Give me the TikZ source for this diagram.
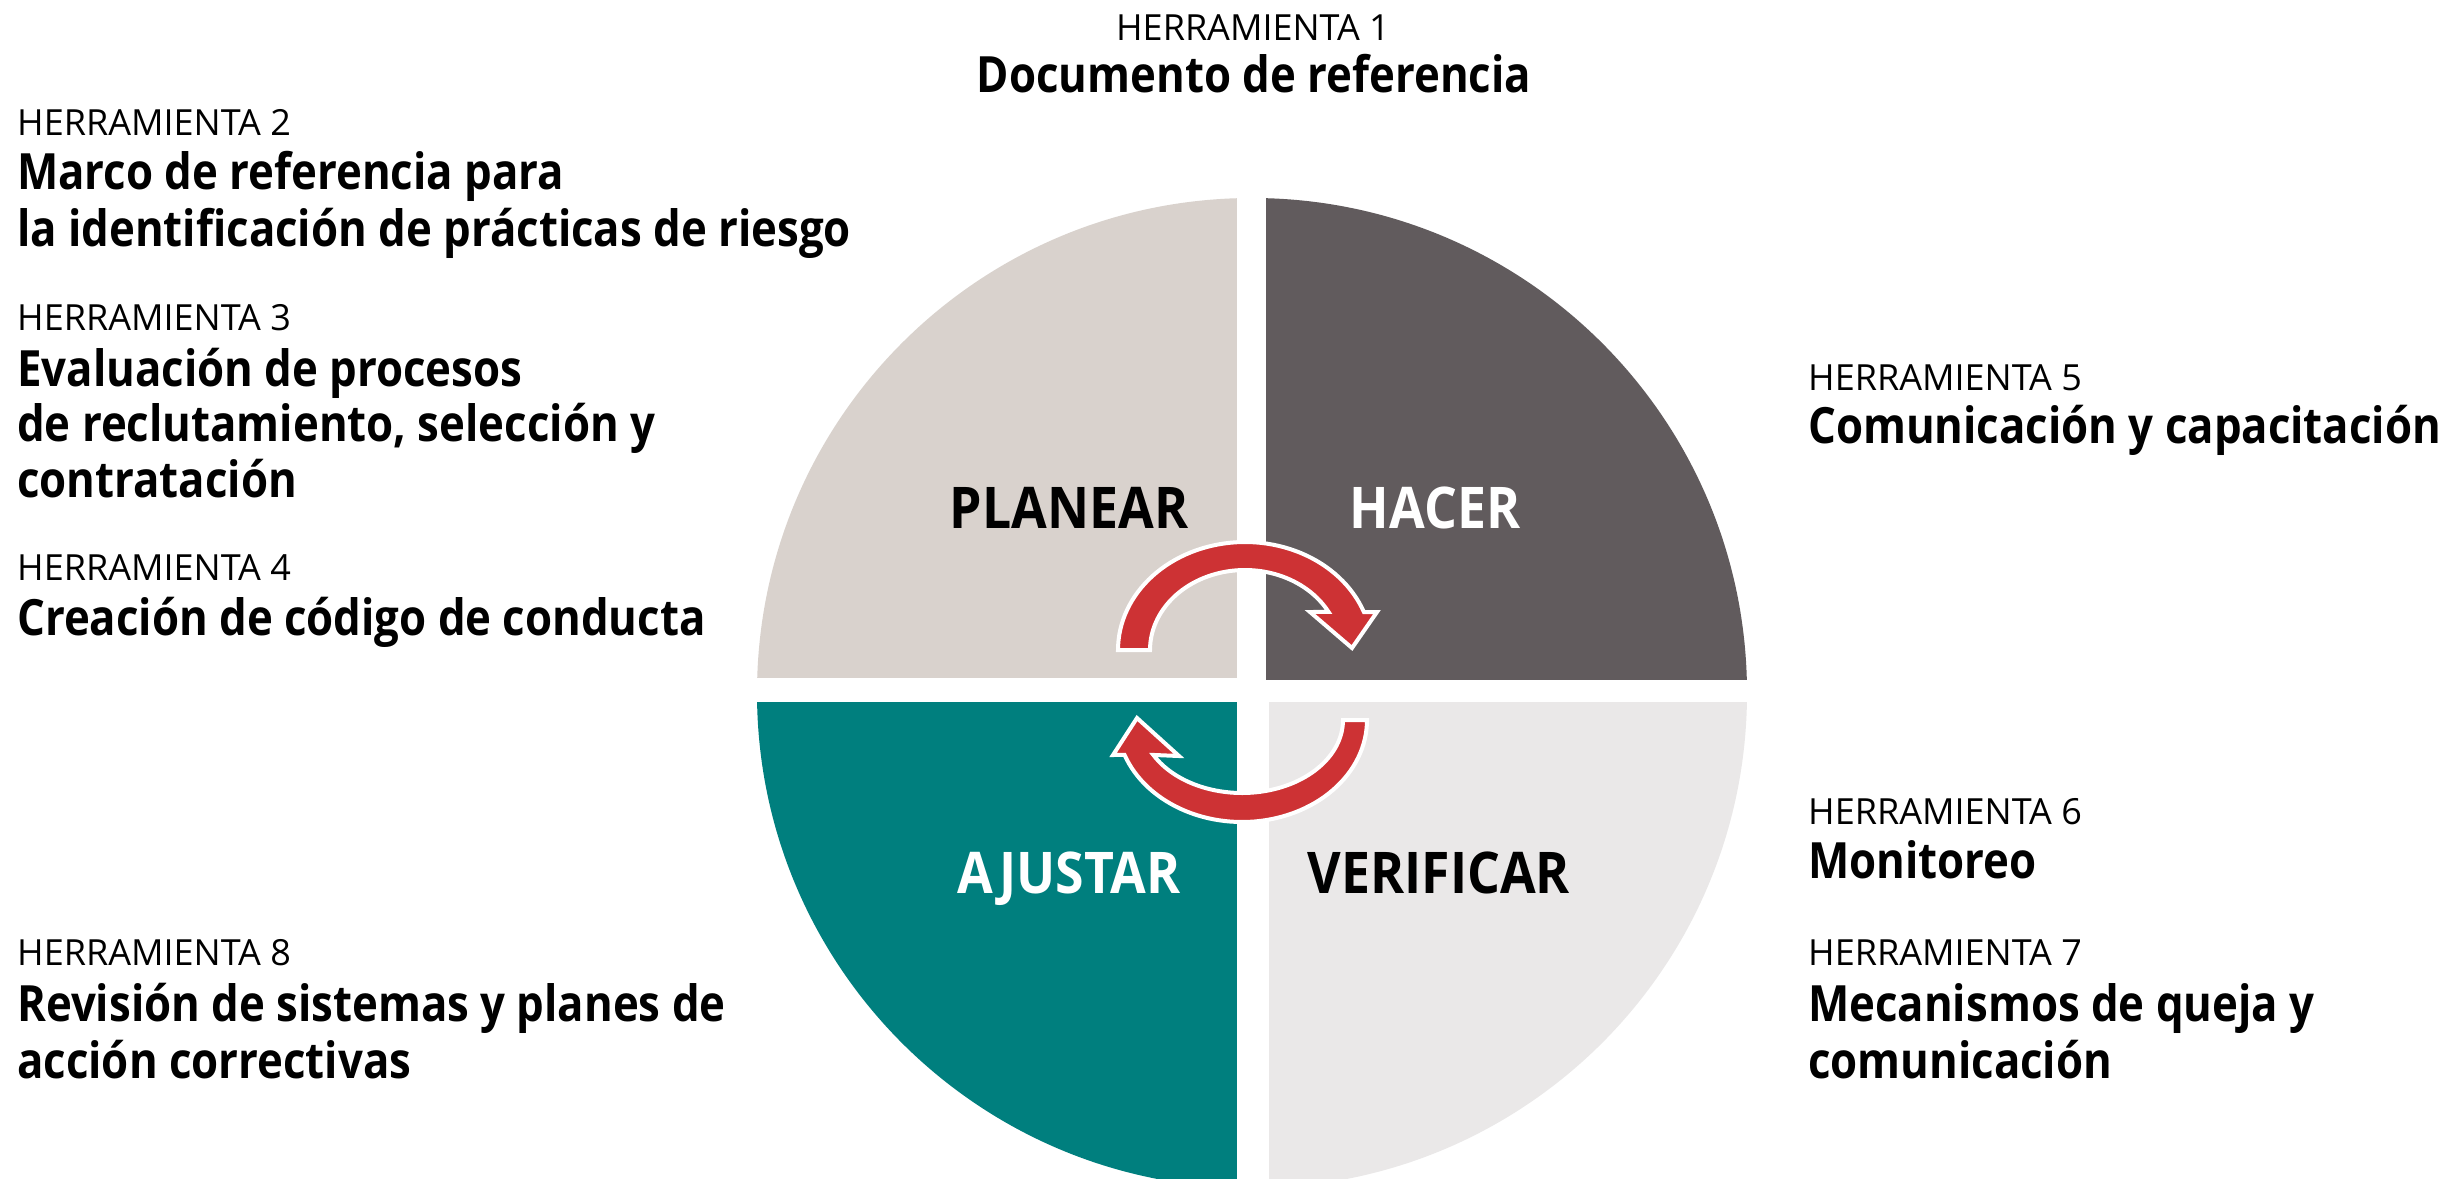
\documentclass[tikz,border=0pt]{standalone}
\usepackage{fontspec}
\newfontfamily\osfont{Open Sans}
\newfontfamily\oscond{Open Sans}[FakeStretch=0.875]
\newfontfamily\osquad{Open Sans}[FakeStretch=0.9]
\newcommand\regfont{\osfont\fontsize{36}{40}\selectfont}
\newcommand\bldfont{\oscond\bfseries\fontsize{50}{56}\selectfont}
\newcommand\quadfont{\osquad\bfseries\fontsize{57.5}{60}\selectfont}
\definecolor{qplan}{HTML}{D9D2CD}
\definecolor{qhacer}{HTML}{615B5D}
\definecolor{qajus}{HTML}{007F7E}
\definecolor{qveri}{HTML}{EAE8E8}
\definecolor{arrred}{HTML}{CD3234}
\begin{document}
\begin{tikzpicture}[x=1pt,y=-1pt,
  reg/.style={font=\regfont, anchor=base west, inner sep=0pt},
  bld/.style={font=\bldfont, anchor=base west, inner sep=0pt},
  quadlbl/.style={font=\quadfont, anchor=base, inner sep=0pt},
  cyclearrow/.style={fill=arrred, draw=white, line width=4pt, line join=miter}]
\useasboundingbox[fill=white] (0,0) rectangle (2463,1178);
% quadrants
\begin{scope}
  \clip (1252,693) circle[radius=495pt];
  \fill[qplan]  (700,150) rectangle (1237,678);
  \fill[qhacer] (1266,150) rectangle (1800,680);
  \fill[qajus]  (700,702) rectangle (1237,1250);
  \fill[qveri]  (1269,702) rectangle (1800,1250);
\end{scope}
% quadrant labels
\node[quadlbl] (plan) at (1069,528) {PLANEAR};
\node[quadlbl, text=white] (hacer) at (1435,528) {HACER};
\node[quadlbl, text=white] (ajus) at (1069,893) {AJUSTAR};
\node[quadlbl] (veri) at (1439,893) {VERIFICAR};
% cycle arrows
\filldraw[cyclearrow] (1118,650)
  -- plot[domain=180:339.4, samples=60] ({1245+127*cos(\x)}, {650+108*sin(\x)})
  -- (1377,612) -- (1352,648) -- (1310,612)
  -- plot[domain=331.6:180, samples=60] ({1245+95*cos(\x)}, {650+80*sin(\x)})
  -- cycle;
\filldraw[cyclearrow] (1367,720)
  -- plot[domain=0:160, samples=60] ({1242+125*cos(\x)}, {720+102*sin(\x)})
  -- (1113,755) -- (1137,718) -- (1179,756)
  -- plot[domain=151.4:0, samples=60] ({1242+101*cos(\x)}, {720+73*sin(\x)})
  -- cycle;
% top
\node[reg, anchor=base] (h1a) at (1253,40) {HERRAMIENTA 1};
\node[bld, anchor=base] (h1b) at (1254,92) {Documento de referencia};
% left
\node[reg] (h2a) at (17,135) {HERRAMIENTA 2};
\node[bld] (h2b) at (17,189) {Marco de referencia para};
\node[bld] (h2c) at (17,246) {la identificación de prácticas de riesgo};
\node[reg] (h3a) at (17,330) {HERRAMIENTA 3};
\node[bld] (h3b) at (17,386) {Evaluación de procesos};
\node[bld] (h3c) at (17,441) {de reclutamiento, selección y};
\node[bld] (h3d) at (17,497) {contratación};
\node[reg] (h4a) at (17,580) {HERRAMIENTA 4};
\node[bld] (h4b) at (17,635) {Creación de código de conducta};
\node[reg] (h8a) at (17,965) {HERRAMIENTA 8};
\node[bld] (h8b) at (17,1021) {Revisión de sistemas y planes de};
\node[bld] (h8c) at (17,1078) {acción correctivas};
% right
\node[reg] (h5a) at (1808,390) {HERRAMIENTA 5};
\node[bld] (h5b) at (1808,443) {Comunicación y capacitación};
\node[reg] (h6a) at (1808,824) {HERRAMIENTA 6};
\node[bld] (h6b) at (1808,878) {Monitoreo};
\node[reg] (h7a) at (1808,965) {HERRAMIENTA 7};
\node[bld] (h7b) at (1808,1021) {Mecanismos de queja y};
\node[bld] (h7c) at (1808,1078) {comunicación};
\end{tikzpicture}
\end{document}
